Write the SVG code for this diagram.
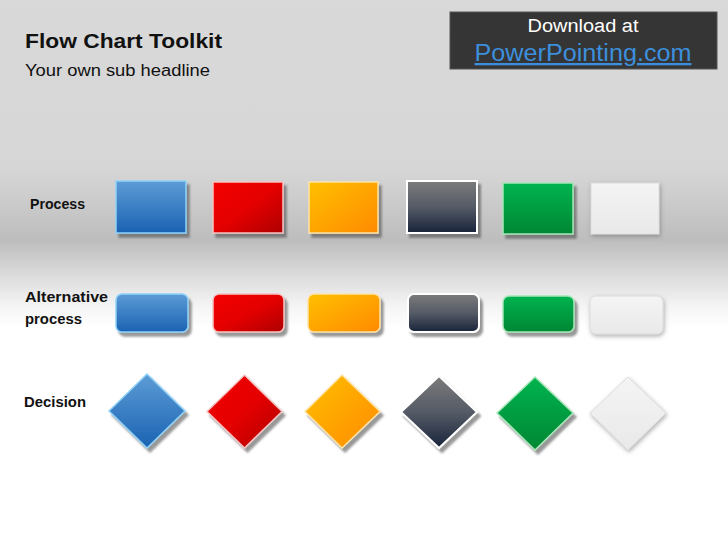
<svg xmlns="http://www.w3.org/2000/svg" width="728" height="546" viewBox="0 0 728 546">
<defs>
  <linearGradient id="bg" x1="0" y1="0" x2="0" y2="546" gradientUnits="userSpaceOnUse">
    <stop offset="0" stop-color="#d9d9d9"/>
    <stop offset="0.31" stop-color="#d6d6d6"/>
    <stop offset="0.37" stop-color="#cbcbcb"/>
    <stop offset="0.44" stop-color="#bdbdbd"/>
    <stop offset="0.5" stop-color="#d9d9d9"/>
    <stop offset="0.56" stop-color="#f4f4f4"/>
    <stop offset="0.6" stop-color="#ffffff"/>
    <stop offset="1" stop-color="#ffffff"/>
  </linearGradient>
  <linearGradient id="gBlue" x1="0" y1="0" x2="0" y2="1">
    <stop offset="0" stop-color="#5d9cd6"/>
    <stop offset="1" stop-color="#1a62b2"/>
  </linearGradient>
  <linearGradient id="gRed" x1="0" y1="0" x2="1" y2="1">
    <stop offset="0" stop-color="#f40000"/>
    <stop offset="0.5" stop-color="#e40000"/>
    <stop offset="1" stop-color="#ae0000"/>
  </linearGradient>
  <linearGradient id="gOrange" x1="0" y1="0" x2="1" y2="1">
    <stop offset="0" stop-color="#ffc000"/>
    <stop offset="1" stop-color="#ff8a00"/>
  </linearGradient>
  <linearGradient id="gDark" x1="0" y1="0" x2="0" y2="1">
    <stop offset="0" stop-color="#7b7b7b"/>
    <stop offset="0.5" stop-color="#555b66"/>
    <stop offset="1" stop-color="#18233a"/>
  </linearGradient>
  <linearGradient id="gGreen" x1="0" y1="0" x2="0" y2="1">
    <stop offset="0" stop-color="#00b34f"/>
    <stop offset="1" stop-color="#008733"/>
  </linearGradient>
  <linearGradient id="gWhite" x1="0" y1="0" x2="0" y2="1">
    <stop offset="0" stop-color="#f4f4f4"/>
    <stop offset="1" stop-color="#e9e9e9"/>
  </linearGradient>
  <filter id="sh" x="-20%" y="-20%" width="150%" height="150%">
    <feDropShadow dx="3" dy="4" stdDeviation="1" flood-color="#444" flood-opacity="0.55"/>
  </filter>
  <filter id="shSoft" x="-20%" y="-20%" width="150%" height="150%">
    <feDropShadow dx="1" dy="2" stdDeviation="2" flood-color="#555" flood-opacity="0.45"/>
  </filter>
</defs>
<style>
  .lbl { font-family: "Liberation Sans", Arial, sans-serif; font-weight: bold; font-size: 15px; fill: #111; }
  .blue { fill: url(#gBlue); stroke: #8fd2f7; stroke-width: 1.5; filter: url(#sh); }
  .red { fill: url(#gRed); stroke: #f6c4c4; stroke-width: 1.5; filter: url(#sh); }
  .orange { fill: url(#gOrange); stroke: #ffe3a8; stroke-width: 1.5; filter: url(#sh); }
  .dark { fill: url(#gDark); stroke: #ffffff; stroke-width: 2; filter: url(#sh); }
  .green { fill: url(#gGreen); stroke: #a6e6b8; stroke-width: 1.5; filter: url(#sh); }
  .white { fill: url(#gWhite); stroke: #dcdcdc; stroke-width: 1; filter: url(#shSoft); }
</style>
<rect x="0" y="0" width="728" height="546" fill="url(#bg)"/>

<g id="header">
  <text x="25" y="48" font-family="'Liberation Sans', Arial, sans-serif" font-weight="bold" font-size="21" fill="#111" textLength="197" lengthAdjust="spacingAndGlyphs">Flow Chart Toolkit</text>
  <text x="25" y="76" font-family="'Liberation Sans', Arial, sans-serif" font-size="16" fill="#111" textLength="185" lengthAdjust="spacingAndGlyphs">Your own sub headline</text>
</g>

<g id="download-box">
  <rect x="450" y="12" width="267" height="57" fill="#353535" stroke="#555" stroke-width="1"/>
  <text x="583" y="32" text-anchor="middle" font-family="'Liberation Sans', Arial, sans-serif" font-size="18" fill="#ffffff" textLength="111" lengthAdjust="spacingAndGlyphs">Download at</text>
  <text x="583" y="61" text-anchor="middle" font-family="'Liberation Sans', Arial, sans-serif" font-size="23" fill="#3c8fdc" text-decoration="underline" textLength="217" lengthAdjust="spacingAndGlyphs">PowerPointing.com</text>
</g>

<g id="row-labels">
  <text class="lbl" x="30" y="209" textLength="55" lengthAdjust="spacingAndGlyphs">Process</text>
  <text class="lbl" x="25" y="302" textLength="83" lengthAdjust="spacingAndGlyphs">Alternative</text>
  <text class="lbl" x="25" y="324" textLength="57" lengthAdjust="spacingAndGlyphs">process</text>
  <text class="lbl" x="24" y="407" textLength="62" lengthAdjust="spacingAndGlyphs">Decision</text>
</g>

<g id="process-blue"><rect class="blue" x="116" y="181" width="70" height="52"/></g>
<g id="process-red"><rect class="red" x="213" y="182" width="70" height="51"/></g>
<g id="process-orange"><rect class="orange" x="309" y="182" width="69" height="51"/></g>
<g id="process-dark"><rect class="dark" x="407" y="181" width="70" height="52"/></g>
<g id="process-green"><rect class="green" x="503" y="183" width="70" height="51"/></g>
<g id="process-white"><rect class="white" x="591" y="183" width="68" height="51"/></g>

<g id="alt-blue"><rect class="blue" x="116" y="294" width="72" height="38" rx="6"/></g>
<g id="alt-red"><rect class="red" x="213" y="294" width="71" height="38" rx="6"/></g>
<g id="alt-orange"><rect class="orange" x="308" y="294" width="72" height="38" rx="6"/></g>
<g id="alt-dark"><rect class="dark" x="408" y="294" width="71" height="38" rx="6"/></g>
<g id="alt-green"><rect class="green" x="503" y="296" width="71" height="36" rx="6"/></g>
<g id="alt-white"><rect class="white" x="590" y="296" width="73" height="38" rx="6"/></g>

<g id="decision-blue"><polygon class="blue" points="147,374 185,411 147,448 109,411"/></g>
<g id="decision-red"><polygon class="red" points="244.5,375 282,411.5 244.5,448 207,411.5"/></g>
<g id="decision-orange"><polygon class="orange" points="342,375 380,411.5 342,448 305,411.5"/></g>
<g id="decision-dark"><polygon class="dark" points="439,376 477,412 439,448 401,412"/></g>
<g id="decision-green"><polygon class="green" points="535,377 573,413 535,450 497,413"/></g>
<g id="decision-white"><polygon class="white" points="628,377 666,413 628,450 590,413"/></g>
</svg>
